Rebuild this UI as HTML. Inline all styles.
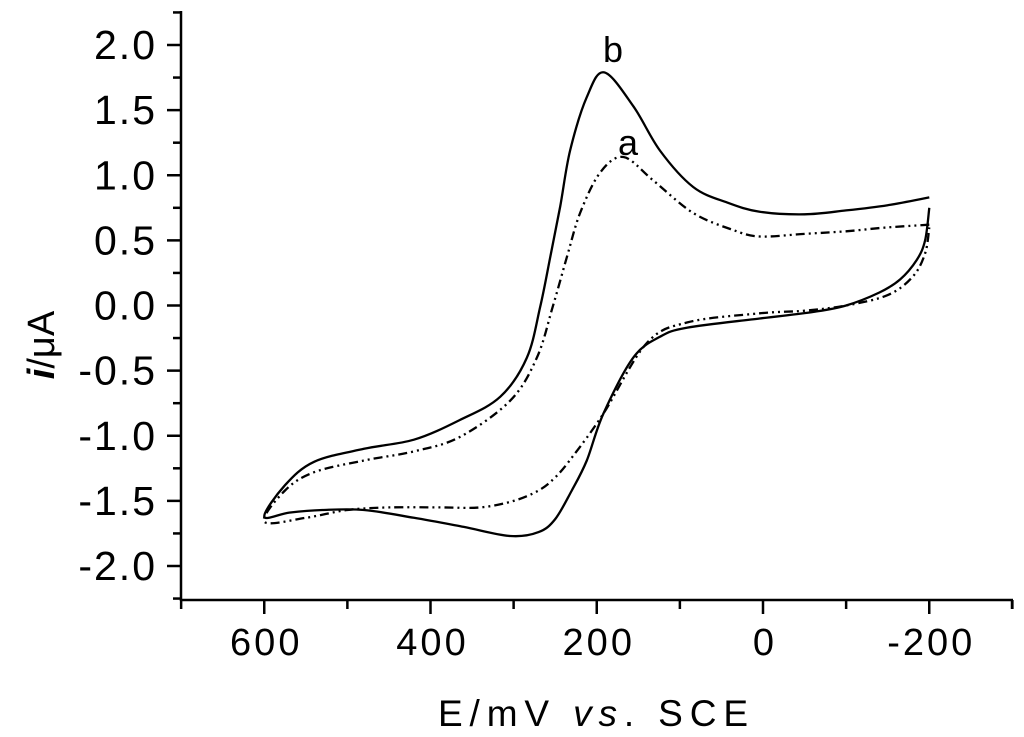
<!DOCTYPE html>
<html><head><meta charset="utf-8"><style>
body{margin:0;background:#fff}
svg{display:block;font-family:"Liberation Sans",Arial,sans-serif}
</style></head><body>
<svg id="chart" width="1024" height="737" viewBox="0 0 1024 737"></svg>
<script>
const xTickVals=[600,400,200,0,-200];
const xTickLabels=["600","400","200","0","-200"];
const yTickVals=[2.0,1.5,1.0,0.5,0.0,-0.5,-1.0,-1.5,-2.0];
const yTickLabels=["2.0","1.5","1.0","0.5","0.0","-0.5","-1.0","-1.5","-2.0"];
const bE=[-200,-150,-100,-50,4,43,84,124,156,191,212,232,244,256,268,284,316,365,420,480,540,575,600,
 570,530,480,420,360,304,270,250,230,212,192,156,124,91,4,-60,-100,-140,-165,-185,-195,-200];
const bI=[0.83,0.77,0.73,0.70,0.72,0.79,0.91,1.19,1.53,1.79,1.60,1.19,0.76,0.37,-0.01,-0.40,-0.70,-0.88,-1.03,-1.10,-1.20,-1.38,-1.62,
 -1.59,-1.57,-1.57,-1.63,-1.70,-1.77,-1.74,-1.64,-1.42,-1.19,-0.83,-0.40,-0.24,-0.17,-0.10,-0.05,0.00,0.10,0.20,0.35,0.50,0.75];
const aE=[-200,-150,-100,-50,4,36,84,132,168,196,220,236,253,272,304,365,420,480,540,575,600,
 550,500,450,389,340,300,270,250,229,192,140,91,4,-50,-100,-150,-180,-195,-200];
const aI=[0.62,0.60,0.57,0.55,0.53,0.58,0.71,0.96,1.14,1.02,0.71,0.37,-0.01,-0.40,-0.73,-1.01,-1.12,-1.19,-1.28,-1.42,-1.66,
 -1.63,-1.57,-1.55,-1.55,-1.55,-1.50,-1.42,-1.32,-1.16,-0.83,-0.29,-0.13,-0.06,-0.04,0.0,0.08,0.22,0.40,0.60];
const NS="http://www.w3.org/2000/svg";
const svg=document.getElementById('chart');
const X=v=>763-v*0.83125;
const Y=v=>305.5-v*130.25;
function el(t,a,p){const e=document.createElementNS(NS,t);for(const k in a)e.setAttribute(k,a[k]);(p||svg).appendChild(e);return e;}
const axes=el('g',{stroke:'#000','stroke-width':2.5,fill:'none'});


el('line',{x1:181,y1:11,x2:181,y2:601},axes);
el('line',{x1:180,y1:600,x2:1013,y2:600},axes);
el('line',{x1:1012,y1:600,x2:1012,y2:609},axes);
for(let v=-2.25;v<=2.26;v+=0.25){const maj=Math.abs(v*2-Math.round(v*2))<1e-6;
 el('line',{x1:maj?167:173,y1:Y(v),x2:181,y2:Y(v)},axes);}
for(let v=-300;v<=700;v+=100){const maj=v%200===0;
 el('line',{x1:X(v),y1:600,x2:X(v),y2:maj?614:609},axes);}
yTickVals.forEach((v,i)=>{const t=el('text',{x:157,y:Y(v)+14,'text-anchor':'end','font-size':41,'letter-spacing':2});t.textContent=yTickLabels[i];
 
 });
xTickVals.forEach((v,i)=>{const t=el('text',{x:X(v)+2,y:655,'text-anchor':'middle','font-size':38,'letter-spacing':3});t.textContent=xTickLabels[i];
 
 });
function smooth(E,I){const p=E.map((e,i)=>[X(e),Y(I[i])]);let d='M'+p[0][0].toFixed(1)+','+p[0][1].toFixed(1);
 for(let i=0;i<p.length-1;i++){const p0=p[i-1]||p[i],p1=p[i],p2=p[i+1],p3=p[i+2]||p2;
  const c1=[p1[0]+(p2[0]-p0[0])/6,p1[1]+(p2[1]-p0[1])/6],c2=[p2[0]-(p3[0]-p1[0])/6,p2[1]-(p3[1]-p1[1])/6];
  d+='C'+c1.map(n=>n.toFixed(1)).join(',')+' '+c2.map(n=>n.toFixed(1)).join(',')+' '+p2.map(n=>n.toFixed(1)).join(',');}
 return d;}
function path(E,I,dash,name){
 const p=el('path',{d:smooth(E,I),fill:'none',stroke:'#000','stroke-width':2.3,'stroke-linejoin':'round'});
 if(dash)p.setAttribute('stroke-dasharray',dash);
 
 }
path(bE,bI,null,'curve-b');
path(aE,aI,'9,4,2,4,2,4','curve-a');
const lb=el('text',{x:613,y:62,'text-anchor':'middle','font-size':36});lb.textContent='b';


const la=el('text',{x:628,y:155,'text-anchor':'middle','font-size':36});la.textContent='a';


const yt=el('text',{transform:'translate(54,345) rotate(-90)','text-anchor':'middle','font-size':38});
yt.innerHTML='<tspan font-style="italic" font-weight="bold">i</tspan>/μA';


const xt=el('text',{x:438,y:726,'font-size':37,textLength:310,lengthAdjust:'spacing'});
xt.innerHTML='E/mV <tspan font-style="italic">vs</tspan>. SCE';


</script>
</body></html>
